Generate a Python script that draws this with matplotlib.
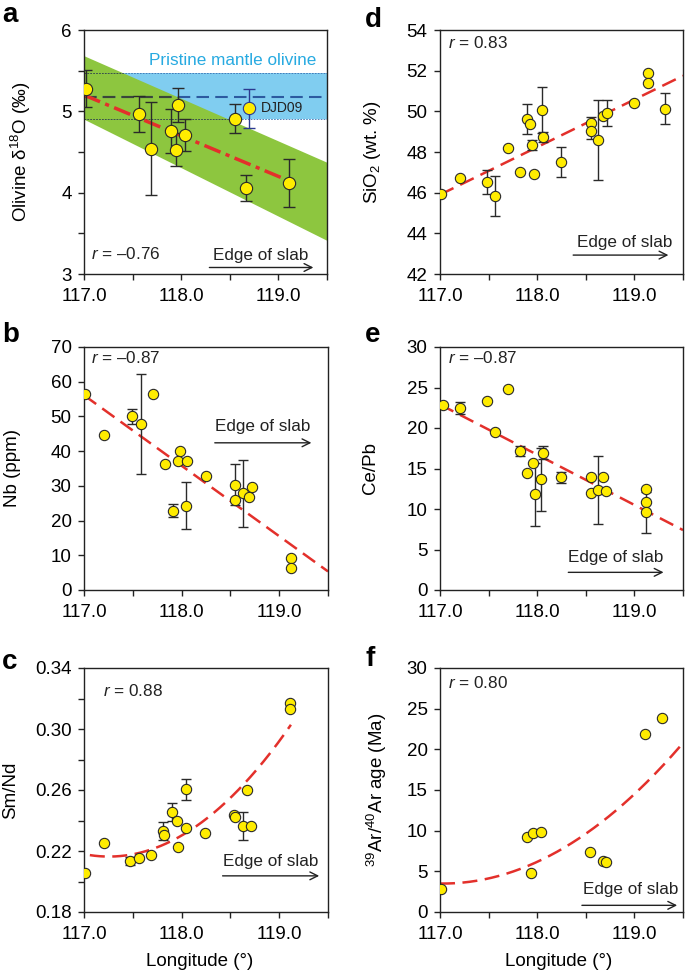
import numpy as np
import matplotlib
matplotlib.use("Agg")
import matplotlib.pyplot as plt
from matplotlib.patches import Polygon, Rectangle

plt.rcParams['font.family'] = ['Liberation Sans', 'DejaVu Sans']
plt.rcParams['mathtext.fontset'] = 'custom'
plt.rcParams['mathtext.rm'] = 'Liberation Sans'
plt.rcParams['mathtext.it'] = 'Liberation Sans:italic'
plt.rcParams['mathtext.bf'] = 'Liberation Sans:bold'

# ---------------- data ----------------
# panel a: olivine d18O
a_lon = [117.02, 117.57, 117.69, 117.89, 117.97, 117.95, 118.04, 118.55, 118.67, 119.11]
a_d18o = [5.28, 4.97, 4.54, 4.76, 5.08, 4.53, 4.71, 4.91, 4.06, 4.12]
a_err = [0.23, 0.22, 0.57, 0.27, 0.21, 0.20, 0.20, 0.18, 0.16, 0.30]
djd09_lon = [118.70]
djd09_d18o = [5.04]
djd09_err = [0.24]
mantle_band = [4.90, 5.47]      # pristine mantle olivine range
mantle_mean = 5.18
green_band_left = [4.90, 5.68]  # band limits at 117.0
green_band_right = [3.41, 4.37] # band limits at 119.5
a_trend = [5.20, -0.50]         # intercept at 117.0, slope
a_trend_x = [117.0, 119.12]

# panel b: Nb
b_lon = [117.01, 117.21, 117.49, 117.58, 117.71, 117.83, 117.91, 117.98, 117.96, 118.06,
         118.05, 118.25, 118.55, 118.55, 118.63, 118.69, 118.72, 119.12, 119.12]
b_nb = [56.4, 44.6, 50.0, 47.7, 56.4, 36.4, 22.8, 40.0, 37.1, 37.1,
        24.3, 32.9, 30.3, 25.9, 27.8, 26.8, 29.7, 9.1, 6.4]
b_err = [0, 0, 2.2, 14.4, 0, 0, 1.9, 0, 0, 0,
         6.8, 0, 5.9, 0, 9.6, 0, 0, 0, 0]
b_trend = [56.1, -20.3]
b_trend_x = [117.0, 119.5]

# panel c: Sm/Nd
c_lon = [117.01, 117.20, 117.47, 117.56, 117.69, 117.81, 117.82, 117.90, 117.95, 117.96,
         118.05, 118.05, 118.24, 118.54, 118.55, 118.63, 118.67, 118.71, 119.11, 119.11]
c_smnd = [0.2056, 0.2254, 0.2135, 0.2153, 0.2177, 0.2330, 0.2304, 0.2454, 0.2400, 0.2223,
          0.2605, 0.2350, 0.2315, 0.2436, 0.2421, 0.2364, 0.2600, 0.2366, 0.3170, 0.3133]
c_err = [0, 0, 0.0025, 0, 0, 0.0058, 0, 0.0058, 0, 0,
         0.0068, 0, 0, 0, 0, 0.009, 0, 0, 0, 0]
c_trend = [0.2173, -0.0097, 0.02485]   # quadratic in (lon - 117.06)
c_trend_x = [117.06, 119.12]

# panel d: SiO2
d_lon = [117.01, 117.21, 117.48, 117.57, 117.70, 117.82, 117.90, 117.93, 117.95, 117.97, 118.05,
         118.06, 118.24, 118.55, 118.55, 118.63, 118.68, 118.72, 119.00, 119.14, 119.14, 119.31]
d_sio2 = [45.92, 46.70, 46.51, 45.82, 48.18, 47.03, 49.61, 49.36, 48.34, 46.90, 50.07,
          48.74, 47.51, 49.41, 49.05, 48.57, 49.79, 49.90, 50.43, 51.90, 51.38, 50.13]
d_err = [0, 0, 0.6, 0.98, 0, 0, 0.74, 0, 0.23, 0, 1.14,
         0.25, 0.76, 0.33, 0.43, 1.97, 0, 0.64, 0, 0, 0, 0.75]
d_trend = [45.9, 2.34]
d_trend_x = [117.0, 119.5]

# panel e: Ce/Pb
e_lon = [117.03, 117.21, 117.48, 117.57, 117.70, 117.82, 117.90, 117.96, 117.98, 118.06,
         118.04, 118.24, 118.55, 118.55, 118.63, 118.68, 118.71, 119.12, 119.12, 119.12]
e_cepb = [22.81, 22.48, 23.35, 19.52, 24.87, 17.18, 14.39, 15.62, 11.80, 16.97,
          13.65, 13.89, 13.89, 11.92, 12.33, 13.89, 12.25, 12.41, 10.89, 9.58]
e_err = [0, 0.7, 0, 0, 0, 0.6, 0, 0, 3.9, 0.8,
         3.9, 0.68, 0, 0, 4.2, 0, 0, 0, 0, 2.5]
e_trend = [22.9, -6.2]
e_trend_x = [117.0, 119.5]

# panel f: Ar-Ar age
f_lon = [117.01, 117.89, 117.96, 118.04, 117.94, 118.54, 118.68, 118.71, 119.11, 119.28]
f_age = [2.88, 9.25, 9.66, 9.78, 4.85, 7.32, 6.29, 6.17, 21.9, 23.9]
f_trend = [3.5, -0.163, 2.83]   # quadratic in (lon - 117.0)
f_trend_x = [117.0, 119.5]

x_ticks = [117.0, 118.0, 119.0]
x_tick_labels = ['117.0', '118.0', '119.0']

# ---------------- style ----------------
YELLOW = '#FFEC00'
EDGE = '#2a2a2a'
RED = '#E3302B'
W, H = 685, 975
FS = 13.5

fig = plt.figure(figsize=(W / 100, H / 100), dpi=100)


def add_ax(l, t, r, b):
    ax = fig.add_axes([l / W, 1 - b / H, (r - l) / W, (b - t) / H])
    ax._px = (l, t, r, b)
    return ax


def style(ax, ylim, major, minor, fmt):
    ax.set_xlim(117.0, 119.5)
    ax.set_ylim(*ylim)
    ax.set_xticks(x_ticks)
    ax.set_xticklabels(x_tick_labels)
    ax.set_xticks([117.5, 118.5, 119.5], minor=True)
    ax.set_yticks(major)
    ax.set_yticklabels([fmt.format(v) for v in major])
    if minor:
        ax.set_yticks(minor, minor=True)
    ax.tick_params(which='both', direction='out', length=4.3, width=1, top=False, right=False,
                   labelsize=FS, color='#222')
    ax.tick_params(axis='x', which='both', pad=5.6)
    ax.tick_params(axis='y', which='both', pad=4.7)
    for s in ax.spines.values():
        s.set_linewidth(1)
        s.set_color('#222')


def ylabel_at(ax, text, right_px):
    l, t, r, b = ax._px
    ax.set_ylabel(text, fontsize=FS)
    ax.yaxis.set_label_coords((right_px - l) / (r - l), 0.5)


def xlabel_at(ax, text, center_px, top_px):
    l, t, r, b = ax._px
    ax.set_xlabel(text, fontsize=FS)
    ax.xaxis.set_label_coords((center_px - l) / (r - l), -(top_px - b) / (b - t))


def points(ax, x, y, err, s=55, ecolor=EDGE, capsize=3.5, edge=EDGE):
    x = np.asarray(x); y = np.asarray(y); err = np.asarray(err)
    m = err > 0
    if m.any():
        ax.errorbar(x[m], y[m], yerr=err[m], fmt='none', ecolor=ecolor, elinewidth=1,
                    capsize=capsize, capthick=1, zorder=3)
    ax.scatter(x, y, s=s, facecolor=YELLOW, edgecolor=edge, linewidths=0.8, zorder=4)


def edge_of_slab(ax, tx, ty, ax0, ax1, ay):
    ax.text(tx, ty, 'Edge of slab', fontsize=12.3, ha='center', va='center', color='#222')
    ax.annotate('', xy=(ax1, ay), xytext=(ax0, ay),
                arrowprops=dict(arrowstyle='->', lw=1, color='#222', mutation_scale=14,
                                shrinkA=0, shrinkB=0))


def panel_letter(px, py, letter):
    fig.text(px / W, 1 - py / H, letter, fontsize=20, fontweight='bold', ha='left',
             va='baseline')


# ---------------- panel a ----------------
ax = add_ax(84, 30, 327, 274)
style(ax, (3, 6), [3, 4, 5, 6], [3.5, 4.5, 5.5], '{:.0f}')
ax.add_patch(Rectangle((117.0, mantle_band[0]), 2.5, mantle_band[1] - mantle_band[0],
                       facecolor='#80CDF0', edgecolor='none', zorder=0.5))
poly = Polygon([(117.0, green_band_left[0]), (117.0, green_band_left[1]),
                (119.5, green_band_right[1]), (119.5, green_band_right[0])],
               closed=True, facecolor='#8DC63F', edgecolor='none', zorder=1)
ax.add_patch(poly)
for yv in mantle_band:
    ax.axhline(yv, color='#3A6FB0', lw=0.6, ls=(0, (2, 1.5)), zorder=1.5)
    ln = ax.axhline(yv, color='#3d4d30', lw=0.6, ls=(0, (2, 1.5)), zorder=1.6)
    ln.set_clip_path(poly)
ax.axhline(mantle_mean, color='#2C5AA0', lw=1.5, ls=(0, (6, 3)), zorder=1.5)
ln = ax.axhline(mantle_mean, color='#3b463a', lw=1.5, ls=(0, (6, 3)), zorder=1.6)
ln.set_clip_path(poly)
xs = np.array(a_trend_x)
ax.plot(xs, a_trend[0] + a_trend[1] * (xs - 117.0), color=RED, lw=2.5,
        ls=(0, (5, 1.6, 1.2, 1.6)), zorder=2)
points(ax, a_lon, a_d18o, a_err, s=78, capsize=4.5)
points(ax, djd09_lon, djd09_d18o, djd09_err, s=78, capsize=4.5, ecolor='#2B3990', edge='#2B3990')
ax.text(118.82, 5.04, 'DJD09', fontsize=10, va='center', ha='left', color='#222')
ax.text(118.53, 5.63, 'Pristine mantle olivine', fontsize=12.3, ha='center', va='center',
        color='#27AAE1')
ax.text(117.07, 3.25, '$r$ = \u20130.76', fontsize=12.3, va='center', ha='left', color='#222')
edge_of_slab(ax, 118.82, 3.23, 118.29, 119.36, 3.08)
ylabel_at(ax, 'Olivine δ$^{18}$O (‰)', 33)
panel_letter(2, 22, 'a')

# ---------------- panel b ----------------
ax = add_ax(84, 347, 328, 590)
style(ax, (0, 70), list(range(0, 71, 10)), None, '{:.0f}')
xs = np.array(b_trend_x)
ax.plot(xs, b_trend[0] + b_trend[1] * (xs - 117.0), color=RED, lw=1.8, ls=(0, (6, 3)), zorder=2)
points(ax, b_lon, b_nb, b_err)
ax.text(117.07, 66.9, '$r$ = \u20130.87', fontsize=12.3, va='center', ha='left', color='#222')
edge_of_slab(ax, 118.83, 47.0, 118.34, 119.33, 42.4)
ylabel_at(ax, 'Nb (ppm)', 21)
panel_letter(2, 342, 'b')

# ---------------- panel c ----------------
ax = add_ax(84, 668, 328, 912)
style(ax, (0.18, 0.34), [0.18, 0.22, 0.26, 0.30, 0.34], [0.20, 0.24, 0.28, 0.32], '{:.2f}')
xs = np.linspace(c_trend_x[0], c_trend_x[1], 200)
t = xs - 117.06
ax.plot(xs, c_trend[0] + c_trend[1] * t + c_trend[2] * t ** 2, color=RED, lw=1.8,
        ls=(0, (6, 3)), zorder=2)
points(ax, c_lon, c_smnd, c_err)
ax.text(117.19, 0.3247, '$r$ = 0.88', fontsize=12.3, va='center', ha='left', color='#222')
edge_of_slab(ax, 118.91, 0.2129, 118.42, 119.41, 0.2037)
ylabel_at(ax, 'Sm/Nd', 19)
xlabel_at(ax, 'Longitude (°)', 200, 953.5)
panel_letter(2, 669, 'c')

# ---------------- panel d ----------------
ax = add_ax(440, 30, 683, 274)
style(ax, (42, 54), list(range(42, 55, 2)), None, '{:.0f}')
xs = np.array(d_trend_x)
ax.plot(xs, d_trend[0] + d_trend[1] * (xs - 117.0), color=RED, lw=1.8, ls=(0, (6, 3)), zorder=2)
points(ax, d_lon, d_sio2, d_err)
ax.text(117.085, 53.34, '$r$ = 0.83', fontsize=12.3, va='center', ha='left', color='#222')
edge_of_slab(ax, 118.90, 43.54, 118.37, 119.35, 42.93)
ylabel_at(ax, 'SiO$_2$ (wt. %)', 383)
panel_letter(365, 27, 'd')

# ---------------- panel e ----------------
ax = add_ax(440, 347, 683, 590)
style(ax, (0, 30), list(range(0, 31, 5)), None, '{:.0f}')
xs = np.array(e_trend_x)
ax.plot(xs, e_trend[0] + e_trend[1] * (xs - 117.0), color=RED, lw=1.8, ls=(0, (6, 3)), zorder=2)
points(ax, e_lon, e_cepb, e_err)
ax.text(117.085, 28.69, '$r$ = \u20130.87', fontsize=12.3, va='center', ha='left', color='#222')
edge_of_slab(ax, 118.81, 3.99, 118.32, 119.30, 2.18)
ylabel_at(ax, 'Ce/Pb', 379)
panel_letter(365, 342, 'e')

# ---------------- panel f ----------------
ax = add_ax(440, 668, 683, 912)
style(ax, (0, 30), list(range(0, 31, 5)), None, '{:.0f}')
xs = np.linspace(f_trend_x[0], f_trend_x[1], 200)
t = xs - 117.0
ax.plot(xs, f_trend[0] + f_trend[1] * t + f_trend[2] * t ** 2, color=RED, lw=1.8,
        ls=(0, (6, 3)), zorder=2)
points(ax, f_lon, f_age, np.zeros(len(f_lon)))
ax.text(117.085, 28.15, '$r$ = 0.80', fontsize=12.3, va='center', ha='left', color='#222')
edge_of_slab(ax, 118.96, 2.79, 118.46, 119.44, 0.82)
ylabel_at(ax, '$^{39}$Ar/$^{40}$Ar age (Ma)', 389)
xlabel_at(ax, 'Longitude (°)', 559, 953.5)
panel_letter(365, 666, 'f')

fig.savefig('out.png', dpi=100)
